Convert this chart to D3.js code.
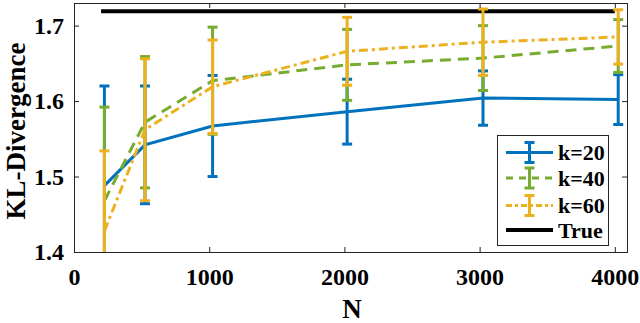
<!DOCTYPE html>
<html><head><meta charset="utf-8">
<script src="https://cdn.jsdelivr.net/npm/d3@7"></script>
<style>body{margin:0;background:#fff}svg{display:block}text{font-family:"Liberation Serif","Times New Roman",serif;font-weight:bold;fill:#000}</style>
</head><body><svg id="c" width="640" height="323"></svg>
<script>
const N = [225, 525, 1025, 2020, 3025, 4025];
const k20 = [1.488, 1.542, 1.567, 1.586, 1.604, 1.602];
const k20err = [0.132, 0.078, 0.067, 0.043, 0.036, 0.033];
const k40 = [1.468, 1.572, 1.627, 1.648, 1.657, 1.673];
const k40err = [0.124, 0.087, 0.071, 0.047, 0.043, 0.035];
const k60 = [1.428, 1.562, 1.619, 1.666, 1.678, 1.685];
const k60err = [0.106, 0.094, 0.062, 0.045, 0.044, 0.036];
const trueN = [200, 4000];
const trueVal = [1.719, 1.719];
const xTicks = [0, 1000, 2000, 3000, 4000];
const yTicks = [1.4, 1.5, 1.6, 1.7];
const seriesNames = ["k=20", "k=40", "k=60", "True"];

const svg = d3.select("#c");
const L = 74, R = 627, T = 3, B = 252;
const x = d3.scaleLinear().domain([0, 4090]).range([L, R]);
const y = d3.scaleLinear().domain([1.4, 1.73]).range([B, T]);

const series = [
  {name: seriesNames[0], v: k20, e: k20err, color: "#0072BD", dash: null},
  {name: seriesNames[1], v: k40, e: k40err, color: "#77AC30", dash: "11,7"},
  {name: seriesNames[2], v: k60, e: k60err, color: "#EDB120", dash: "9,4,3,4"}
];

svg.append("defs").append("clipPath").attr("id","clip")
  .append("rect").attr("x", L).attr("y", T).attr("width", R-L).attr("height", B-T);
const plot = svg.append("g").attr("clip-path","url(#clip)");

const axCol = "#262626";
const gB = svg.append("g").attr("transform",`translate(0,${B})`)
  .call(d3.axisBottom(x).tickValues(xTicks).tickSize(-5).tickPadding(16).tickFormat(d3.format("d")));
const gT = svg.append("g").attr("transform",`translate(0,${T})`)
  .call(d3.axisTop(x).tickValues(xTicks).tickSize(-5).tickFormat(""));
const gL = svg.append("g").attr("transform",`translate(${L},0)`)
  .call(d3.axisLeft(y).tickValues(yTicks).tickSize(-5).tickPadding(10).tickFormat(d3.format(".1f")));
const gR = svg.append("g").attr("transform",`translate(${R},0)`)
  .call(d3.axisRight(y).tickValues(yTicks).tickSize(-5).tickFormat(""));
[gB,gT,gL,gR].forEach(g=>{
  g.attr("font-family", null).attr("font-size", null);
  g.select(".domain").attr("stroke", axCol).attr("stroke-width",1);
  g.selectAll(".tick line").attr("stroke", axCol);
  g.selectAll("text").attr("font-size", 24).style("font-family",'"Liberation Serif",serif').style("font-weight","bold").attr("fill","#000");
});

plot.append("path")
  .attr("d", d3.line().x((d,i)=>x(trueN[i])).y(d=>y(d))(trueVal))
  .attr("stroke","#000").attr("stroke-width",4).attr("fill","none");

const capW = 5;
series.forEach(s=>{
  plot.append("path")
    .attr("d", d3.line().x((d,i)=>x(N[i])).y(d=>y(d))(s.v))
    .attr("stroke", s.color).attr("stroke-width",3).attr("fill","none")
    .attr("stroke-dasharray", s.dash);
  const g = plot.append("g").attr("stroke", s.color).attr("stroke-width",3);
  s.v.forEach((v,i)=>{
    const cx = x(N[i]), y1 = y(v + s.e[i]), y0 = y(v - s.e[i]);
    g.append("line").attr("x1",cx).attr("x2",cx).attr("y1",y1).attr("y2",y0);
    g.append("line").attr("x1",cx-capW).attr("x2",cx+capW).attr("y1",y1).attr("y2",y1);
    g.append("line").attr("x1",cx-capW).attr("x2",cx+capW).attr("y1",y0).attr("y2",y0);
  });
});

const lg = svg.append("g");
lg.append("rect").attr("x",497.5).attr("y",135.5).attr("width",111).attr("height",110)
  .attr("fill","#fff").attr("stroke",axCol).attr("stroke-width",1);
const rowsY = [152.5, 178, 205.5, 230];
series.forEach((s,i)=>{
  const yy = rowsY[i];
  lg.append("line").attr("x1",506).attr("x2",553).attr("y1",yy).attr("y2",yy)
    .attr("stroke",s.color).attr("stroke-width",3).attr("stroke-dasharray", s.dash ? (i==1?"7,6":"6,3,3,3") : null);
  const g = lg.append("g").attr("stroke",s.color).attr("stroke-width",3);
  g.append("line").attr("x1",529.5).attr("x2",529.5).attr("y1",yy-10).attr("y2",yy+10);
  g.append("line").attr("x1",524.5).attr("x2",534.5).attr("y1",yy-10).attr("y2",yy-10);
  g.append("line").attr("x1",524.5).attr("x2",534.5).attr("y1",yy+10).attr("y2",yy+10);
  lg.append("text").attr("x",558).attr("y",yy+7.5).attr("font-size",22).text(s.name);
});
lg.append("line").attr("x1",506).attr("x2",553).attr("y1",rowsY[3]).attr("y2",rowsY[3])
  .attr("stroke","#000").attr("stroke-width",4);
lg.append("text").attr("x",558).attr("y",rowsY[3]+7.5).attr("font-size",22).text(seriesNames[3]);

svg.append("text").attr("x",352).attr("y",318).attr("text-anchor","middle").attr("font-size",27).text("N");
svg.append("text").attr("transform","translate(25,131) rotate(-90)").attr("text-anchor","middle").attr("font-size",27).text("KL-Divergence");
</script></body></html>
